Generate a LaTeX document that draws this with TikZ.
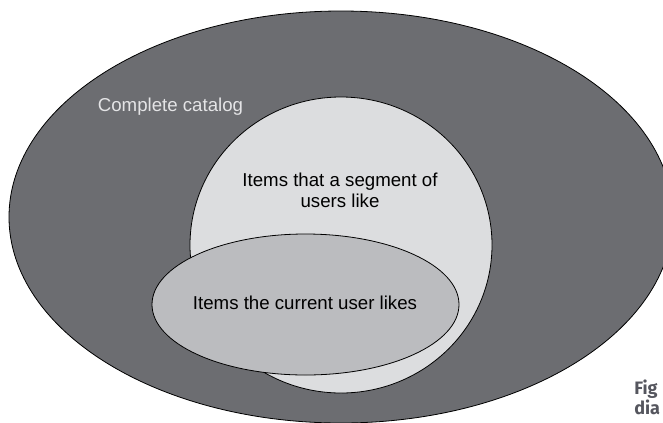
\documentclass[tikz,border=0pt]{standalone}
\usepackage{fontspec}
\setmainfont{Liberation Sans}
\newfontfamily\figfont{Fira Sans}
\usetikzlibrary{positioning}

\definecolor{catalogfill}{HTML}{6C6D71}
\definecolor{segmentfill}{HTML}{DCDDDF}
\definecolor{userfill}{HTML}{BBBCBF}
\definecolor{cataloglabel}{HTML}{E4E4E6}
\definecolor{figlabel}{HTML}{55565E}

\begin{document}
\begin{tikzpicture}[x = 0.75pt, y = -0.75pt,
    every node/.style={font=\fontsize{14}{15.75}\selectfont, align=center},
    set/.style={draw=black, line width=0.6pt},
    figtag/.style={anchor=base west, inner sep=0pt, text=figlabel,
        font=\figfont\bfseries\fontsize{13.5}{15}\selectfont}]
    \useasboundingbox (0, 0) rectangle (663, 422);
    \clip (0, 0) rectangle (663, 422);
    \draw [set, fill=catalogfill] (341, 217) ellipse [x radius=332, y radius=206];
    \draw [set, fill=segmentfill] (341, 245) ellipse [x radius=151, y radius=148];
    \draw [set, fill=userfill] (305.5, 304.5) ellipse [x radius=153.5, y radius=70.5];
    \node (catalog) at (170.5, 107) [text=cataloglabel] {Complete catalog};
    \node (segment) at (340, 190) {Items that a segment of\\users like};
    \node (user) at (305, 303) {Items the current user likes};
    \node (figtop) at (634, 394) [figtag] {Fig};
    \node (figbottom) at (634, 414) [figtag] {dia};
\end{tikzpicture}
\end{document}
